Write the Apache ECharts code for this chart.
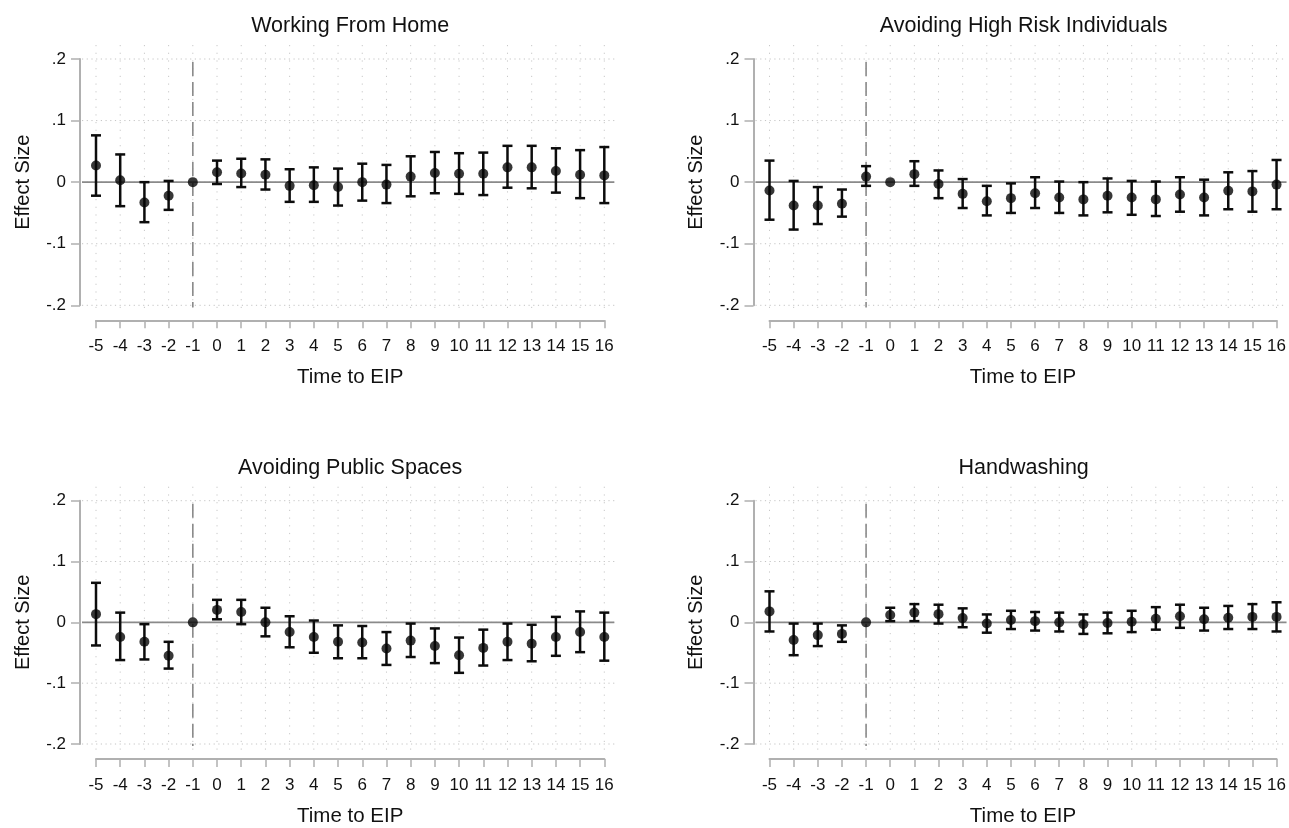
<!DOCTYPE html>
<html><head><meta charset="utf-8">
<script src="https://cdn.jsdelivr.net/npm/echarts@6/dist/echarts.min.js"></script>
<style>html,body{margin:0;padding:0;background:#fff}#c{width:1289px;height:828px}</style>
</head><body><div id="c"></div><script>
// ---------- data ----------
const periods = [-5,-4,-3,-2,-1,0,1,2,3,4,5,6,7,8,9,10,11,12,13,14,15,16];
const yTicks = [-0.2,-0.1,0,0.1,0.2];
const eventPeriod = -1;
const titles = ['Working From Home','Avoiding High Risk Individuals','Avoiding Public Spaces','Handwashing'];

const wfhEst = [0.027,0.003,-0.033,-0.022,0,0.016,0.014,0.012,-0.006,-0.005,-0.008,0,-0.004,0.009,0.015,0.0135,0.0135,0.024,0.024,0.018,0.012,0.011];
const wfhHi  = [0.076,0.045,0,0.002,null,0.035,0.038,0.037,0.021,0.024,0.022,0.030,0.028,0.042,0.049,0.047,0.048,0.059,0.059,0.055,0.052,0.057];
const wfhLo  = [-0.022,-0.039,-0.065,-0.045,null,-0.003,-0.008,-0.012,-0.032,-0.032,-0.038,-0.030,-0.034,-0.023,-0.018,-0.019,-0.021,-0.009,-0.010,-0.017,-0.026,-0.034];

const riskEst = [-0.0135,-0.038,-0.038,-0.035,0.009,0,0.013,-0.003,-0.019,-0.031,-0.026,-0.018,-0.025,-0.028,-0.022,-0.025,-0.028,-0.020,-0.025,-0.014,-0.015,-0.004];
const riskHi  = [0.035,0.002,-0.008,-0.012,0.026,null,0.034,0.019,0.005,-0.006,-0.002,0.008,0.001,0,0.006,0.002,0.001,0.008,0.004,0.016,0.018,0.036];
const riskLo  = [-0.061,-0.077,-0.068,-0.056,-0.006,null,-0.006,-0.026,-0.042,-0.054,-0.050,-0.042,-0.050,-0.054,-0.049,-0.053,-0.055,-0.048,-0.054,-0.044,-0.048,-0.044];

const pubEst = [0.0135,-0.024,-0.032,-0.055,0,0.0205,0.017,0,-0.016,-0.024,-0.032,-0.033,-0.043,-0.030,-0.039,-0.054,-0.042,-0.032,-0.035,-0.024,-0.016,-0.024];
const pubHi  = [0.065,0.016,-0.003,-0.032,null,0.037,0.037,0.024,0.010,0.003,-0.005,-0.006,-0.016,-0.002,-0.010,-0.025,-0.012,-0.002,-0.004,0.009,0.018,0.016];
const pubLo  = [-0.038,-0.062,-0.061,-0.076,null,0.005,-0.003,-0.023,-0.041,-0.050,-0.059,-0.059,-0.070,-0.057,-0.067,-0.083,-0.071,-0.062,-0.064,-0.055,-0.049,-0.063];

const handEst = [0.018,-0.029,-0.021,-0.019,0,0.012,0.016,0.0135,0.007,-0.002,0.004,0.002,0,-0.003,-0.001,0.001,0.006,0.010,0.005,0.0075,0.009,0.009];
const handHi  = [0.051,-0.002,-0.002,-0.005,null,0.024,0.030,0.029,0.023,0.013,0.019,0.017,0.016,0.013,0.016,0.019,0.025,0.029,0.024,0.027,0.030,0.033];
const handLo  = [-0.015,-0.054,-0.039,-0.032,null,0.002,0.002,-0.002,-0.008,-0.017,-0.011,-0.0135,-0.015,-0.019,-0.018,-0.016,-0.012,-0.009,-0.0135,-0.011,-0.011,-0.015];

const panelData = [
  {est: wfhEst, lo: wfhLo, hi: wfhHi},
  {est: riskEst, lo: riskLo, hi: riskHi},
  {est: pubEst, lo: pubLo, hi: pubHi},
  {est: handEst, lo: handLo, hi: handHi}
];

// ---------- layout / style ----------
const layout = [
  {left: 96, top: 59},
  {left: 769.5, top: 59},
  {left: 96, top: 500.7},
  {left: 769.5, top: 500.7}
];
const gridW = 508.3, gridH = 246.3;
const FONT = "'Liberation Sans', Arial, sans-serif";
const TXT = '#111111';
const AXC = '#b0b0b0';
const xMin = periods[0], xMax = periods[periods.length-1];
const yMin = yTicks[0], yMax = yTicks[yTicks.length-1];
const pad = {l: 14, r: 10, t: 14, b: 9};

const chart = echarts.init(document.getElementById('c'), null, {renderer: 'canvas'});
const grids = [], xAxes = [], yAxes = [], series = [], title = [];

function fmtY(v){
  const r = Math.round(v*10)/10;
  if (r === 0) return '0';
  return (r < 0 ? '-' : '') + String(Math.abs(r)).replace(/^0/, '');
}

layout.forEach((L, i) => {
  grids.push({left: L.left, top: L.top, width: gridW, height: gridH, containLabel: false});
  title.push({
    text: titles[i], left: L.left + gridW/2, top: L.top - 44, textAlign: 'center', padding: 0,
    textStyle: {fontFamily: FONT, fontSize: 21.5, fontWeight: 'normal', color: TXT}
  });
  xAxes.push({
    gridIndex: i, type: 'value', min: xMin, max: xMax, interval: 1, offset: 15,
    axisLine: {show: true, onZero: false, lineStyle: {color: AXC, width: 2}},
    axisTick: {show: true, length: 8, lineStyle: {color: AXC, width: 1.5}},
    axisLabel: {fontFamily: FONT, fontSize: 17, color: TXT, margin: 18, showMinLabel: true, showMaxLabel: true},
    splitLine: {show: false},
    name: 'Time to EIP', nameLocation: 'middle', nameGap: 47,
    nameTextStyle: {fontFamily: FONT, fontSize: 20.5, color: TXT}
  });
  yAxes.push({
    gridIndex: i, type: 'value', min: yMin, max: yMax, interval: 0.1, offset: 16,
    axisLine: {show: true, onZero: false, lineStyle: {color: AXC, width: 2}},
    axisTick: {show: true, length: 9, lineStyle: {color: AXC, width: 1.5}},
    axisLabel: {fontFamily: FONT, fontSize: 17, color: TXT, margin: 14, formatter: fmtY, showMinLabel: true, showMaxLabel: true},
    splitLine: {show: false},
    name: 'Effect Size', nameLocation: 'middle', nameGap: 47, nameRotate: 90,
    nameTextStyle: {fontFamily: FONT, fontSize: 20, color: TXT}
  });

  // vertical dotted grid lines
  series.push({
    type: 'custom', xAxisIndex: i, yAxisIndex: i, z: 1, silent: true, clip: false,
    data: periods.map(x => [x, 0]),
    renderItem: (params, api) => {
      const x = api.value(0);
      const p1 = api.coord([x, yMax]), p2 = api.coord([x, yMin]);
      return {type: 'line', shape: {x1: p1[0], y1: p1[1]-pad.t, x2: p2[0], y2: p2[1]+pad.b},
        style: {stroke: '#c8c8c8', lineWidth: 1, lineDash: [1.2, 6.5]}};
    }
  });
  // horizontal dotted grid lines
  series.push({
    type: 'custom', xAxisIndex: i, yAxisIndex: i, z: 1, silent: true, clip: false,
    data: yTicks.map(y => [0, y]),
    renderItem: (params, api) => {
      const y = api.value(1);
      const p1 = api.coord([xMin, y]), p2 = api.coord([xMax, y]);
      return {type: 'line', shape: {x1: p1[0]-pad.l, y1: p1[1], x2: p2[0]+pad.r, y2: p2[1]},
        style: {stroke: '#c4c4c4', lineWidth: 1, lineDash: [1.2, 3.5]}};
    }
  });
  // zero line
  series.push({
    type: 'custom', xAxisIndex: i, yAxisIndex: i, z: 2, silent: true, clip: false,
    data: [[0, 0]],
    renderItem: (params, api) => {
      const p1 = api.coord([xMin, api.value(1)]), p2 = api.coord([xMax, api.value(1)]);
      return {type: 'line', shape: {x1: p1[0]-pad.l, y1: p1[1], x2: p2[0]+pad.r, y2: p2[1]},
        style: {stroke: '#8a8a8a', lineWidth: 1.6}};
    }
  });
  // dashed event line
  series.push({
    type: 'custom', xAxisIndex: i, yAxisIndex: i, z: 2, silent: true, clip: false,
    data: [[eventPeriod, 0]],
    renderItem: (params, api) => {
      const p1 = api.coord([api.value(0), yMax]), p2 = api.coord([api.value(0), yMin]);
      return {type: 'line', shape: {x1: p1[0], y1: p1[1]+3, x2: p2[0], y2: p2[1]+2},
        style: {stroke: '#8a8a8a', lineWidth: 1.6, lineDash: [14, 6]}};
    }
  });
  // error bars
  const D = panelData[i];
  series.push({
    type: 'custom', xAxisIndex: i, yAxisIndex: i, z: 3, silent: true, clip: false,
    data: periods.map((x, k) => [x, D.lo[k], D.hi[k]]).filter(d => d[1] !== null && d[2] !== null),
    encode: {x: 0, y: [1, 2]},
    renderItem: (params, api) => {
      const x = api.value(0);
      const lo = api.coord([x, api.value(1)]), hi = api.coord([x, api.value(2)]);
      const cw = 5;
      const st = {stroke: '#0c0c0c', lineWidth: 2.5};
      return {type: 'group', children: [
        {type: 'line', shape: {x1: hi[0], y1: hi[1], x2: lo[0], y2: lo[1]}, style: st},
        {type: 'line', shape: {x1: hi[0]-cw, y1: hi[1], x2: hi[0]+cw, y2: hi[1]}, style: st},
        {type: 'line', shape: {x1: lo[0]-cw, y1: lo[1], x2: lo[0]+cw, y2: lo[1]}, style: st}
      ]};
    }
  });
  // point estimates
  series.push({
    type: 'scatter', xAxisIndex: i, yAxisIndex: i, z: 4, silent: true,
    symbol: 'circle', symbolSize: 10,
    itemStyle: {color: '#050505'},
    data: periods.map((x, k) => [x, D.est[k]])
  });
});

chart.setOption({
  backgroundColor: '#ffffff',
  animation: false,
  title: title,
  grid: grids,
  xAxis: xAxes,
  yAxis: yAxes,
  series: series
});
</script></body></html>
